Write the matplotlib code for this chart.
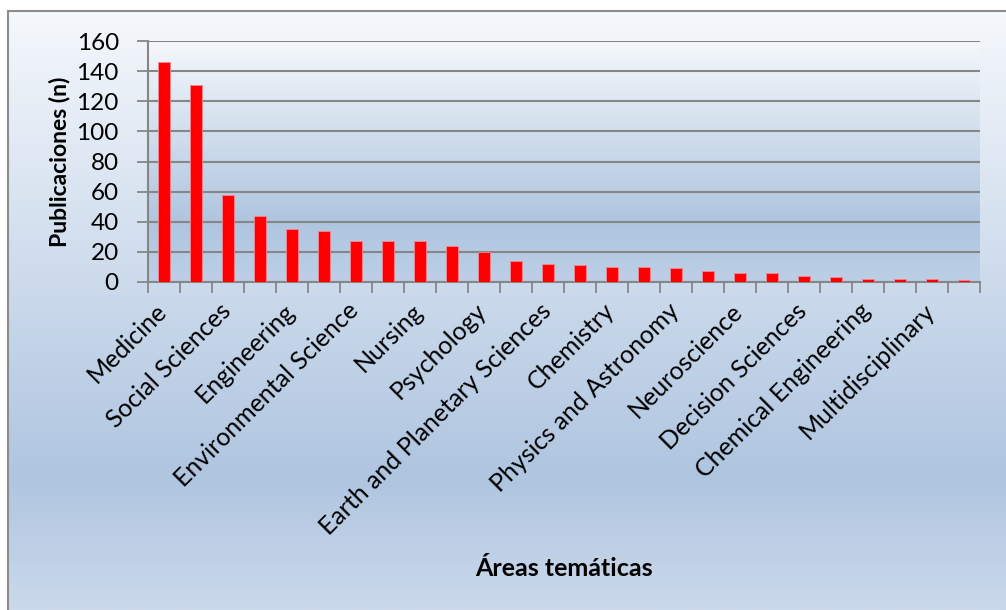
import numpy as np
import matplotlib
matplotlib.use("Agg")
import matplotlib.pyplot as plt
from matplotlib.colors import LinearSegmentedColormap
from matplotlib.patches import Rectangle
import matplotlib.transforms as mtransforms

plt.rcParams['font.family'] = ['Lato', 'DejaVu Sans']

# Subject areas, ordered by number of publications
categories = [
    "Medicine", "Biochemistry, Genetics and Molecular Biology",
    "Social Sciences", "Agricultural and Biological Sciences",
    "Engineering", "Arts and Humanities",
    "Environmental Science", "Business, Management and Accounting",
    "Nursing", "Computer Science",
    "Psychology", "Economics, Econometrics and Finance",
    "Earth and Planetary Sciences", "Energy",
    "Chemistry", "Health Professions",
    "Physics and Astronomy", "Immunology and Microbiology",
    "Neuroscience", "Materials Science",
    "Decision Sciences", "Mathematics",
    "Chemical Engineering", "Pharmacology, Toxicology and Pharmaceutics",
    "Multidisciplinary", "Veterinary",
]
publications = [146, 131, 58, 44, 35, 34, 27, 27, 27, 24, 20, 14, 12,
                11, 10, 10, 9, 7, 6, 6, 4, 3, 2, 2, 2, 1]
y_ticks = [0, 20, 40, 60, 80, 100, 120, 140, 160]

W, H = 1006, 610
fig = plt.figure(figsize=(W / 100, H / 100), dpi=100)
fig.patch.set_facecolor("white")

# Chart-area background: vertical gradient inside a grey frame
bg_cmap = LinearSegmentedColormap.from_list(
    "bg", [(0.0, "#f5f8fc"), (0.78, "#afc5e0"), (1.0, "#cbd9eb")])
bg = fig.add_axes([8 / W, 0, 1 - 8 / W, 1 - 11 / H], zorder=-10)
bg.imshow(np.linspace(0, 1, 256)[:, None], aspect="auto", cmap=bg_cmap,
          extent=[0, 1, 0, 1], origin="upper")
bg.set_axis_off()
fig.patches.append(Rectangle((8 / W, -0.01), 1.0, 1 - 11 / H + 0.01,
                             transform=fig.transFigure, fill=False,
                             edgecolor="#8c8c8c", linewidth=1.5, zorder=5))

left, right, top, bottom = 148, 980, 41, 282
ax = fig.add_axes([left / W, 1 - bottom / H, (right - left) / W, (bottom - top) / H])

# Plot-area gradient
pa_cmap = LinearSegmentedColormap.from_list(
    "pa", [(0.0, "#f5f8fc"), (0.75, "#afc5df"), (1.0, "#bccfe6")])
ax.imshow(np.linspace(0, 1, 256)[:, None], aspect="auto", cmap=pa_cmap,
          extent=[0, 1, 0, 1], origin="upper", transform=ax.transAxes, zorder=0)

x = np.arange(len(categories))
ax.bar(x, publications, width=0.4, color="#ff0000", edgecolor="#f08a96",
       linewidth=0.6, zorder=3)

ax.set_xlim(-0.5, len(categories) - 0.5)
ax.set_ylim(0, 160)
ax.set_yticks(y_ticks)
ax.yaxis.grid(True, color="#868686", linewidth=1.5, zorder=1)
ax.set_axisbelow(True)
ax.tick_params(axis="y", direction="out", length=8, width=1.3, color="#868686",
               labelsize=17.5, pad=13)

# Category labels on every second bar, boundary tick marks between bars
ax.set_xticks(x[::2])
ax.set_xticklabels(categories[::2], rotation=45, ha="right", va="top",
                   rotation_mode="anchor", fontsize=18)
ax.tick_params(axis="x", which="major", length=0, pad=5)
ax.set_xticks(np.arange(-0.5, len(categories)), minor=True)
ax.tick_params(axis="x", which="minor", direction="out", length=8, width=1.3,
               color="#868686")
offset = mtransforms.ScaledTranslation(-9 / 100, -10 / 100, fig.dpi_scale_trans)
for lbl in ax.get_xticklabels():
    lbl.set_transform(lbl.get_transform() + offset)

for side in ("top", "right"):
    ax.spines[side].set_visible(False)
for side in ("left", "bottom"):
    ax.spines[side].set_color("#868686")
    ax.spines[side].set_linewidth(1.5)

fig.text(60 / W, 1 - (top + bottom) / 2 / H, "Publicaciones (n)", ha="center",
         va="center", rotation=90, fontsize=16.5, fontweight="bold")
fig.text((left + right) / 2 / W, 1 - 569 / H, "Áreas temáticas", ha="center",
         va="center", fontsize=18, fontweight="bold")

fig.savefig("out.png", dpi=100)
